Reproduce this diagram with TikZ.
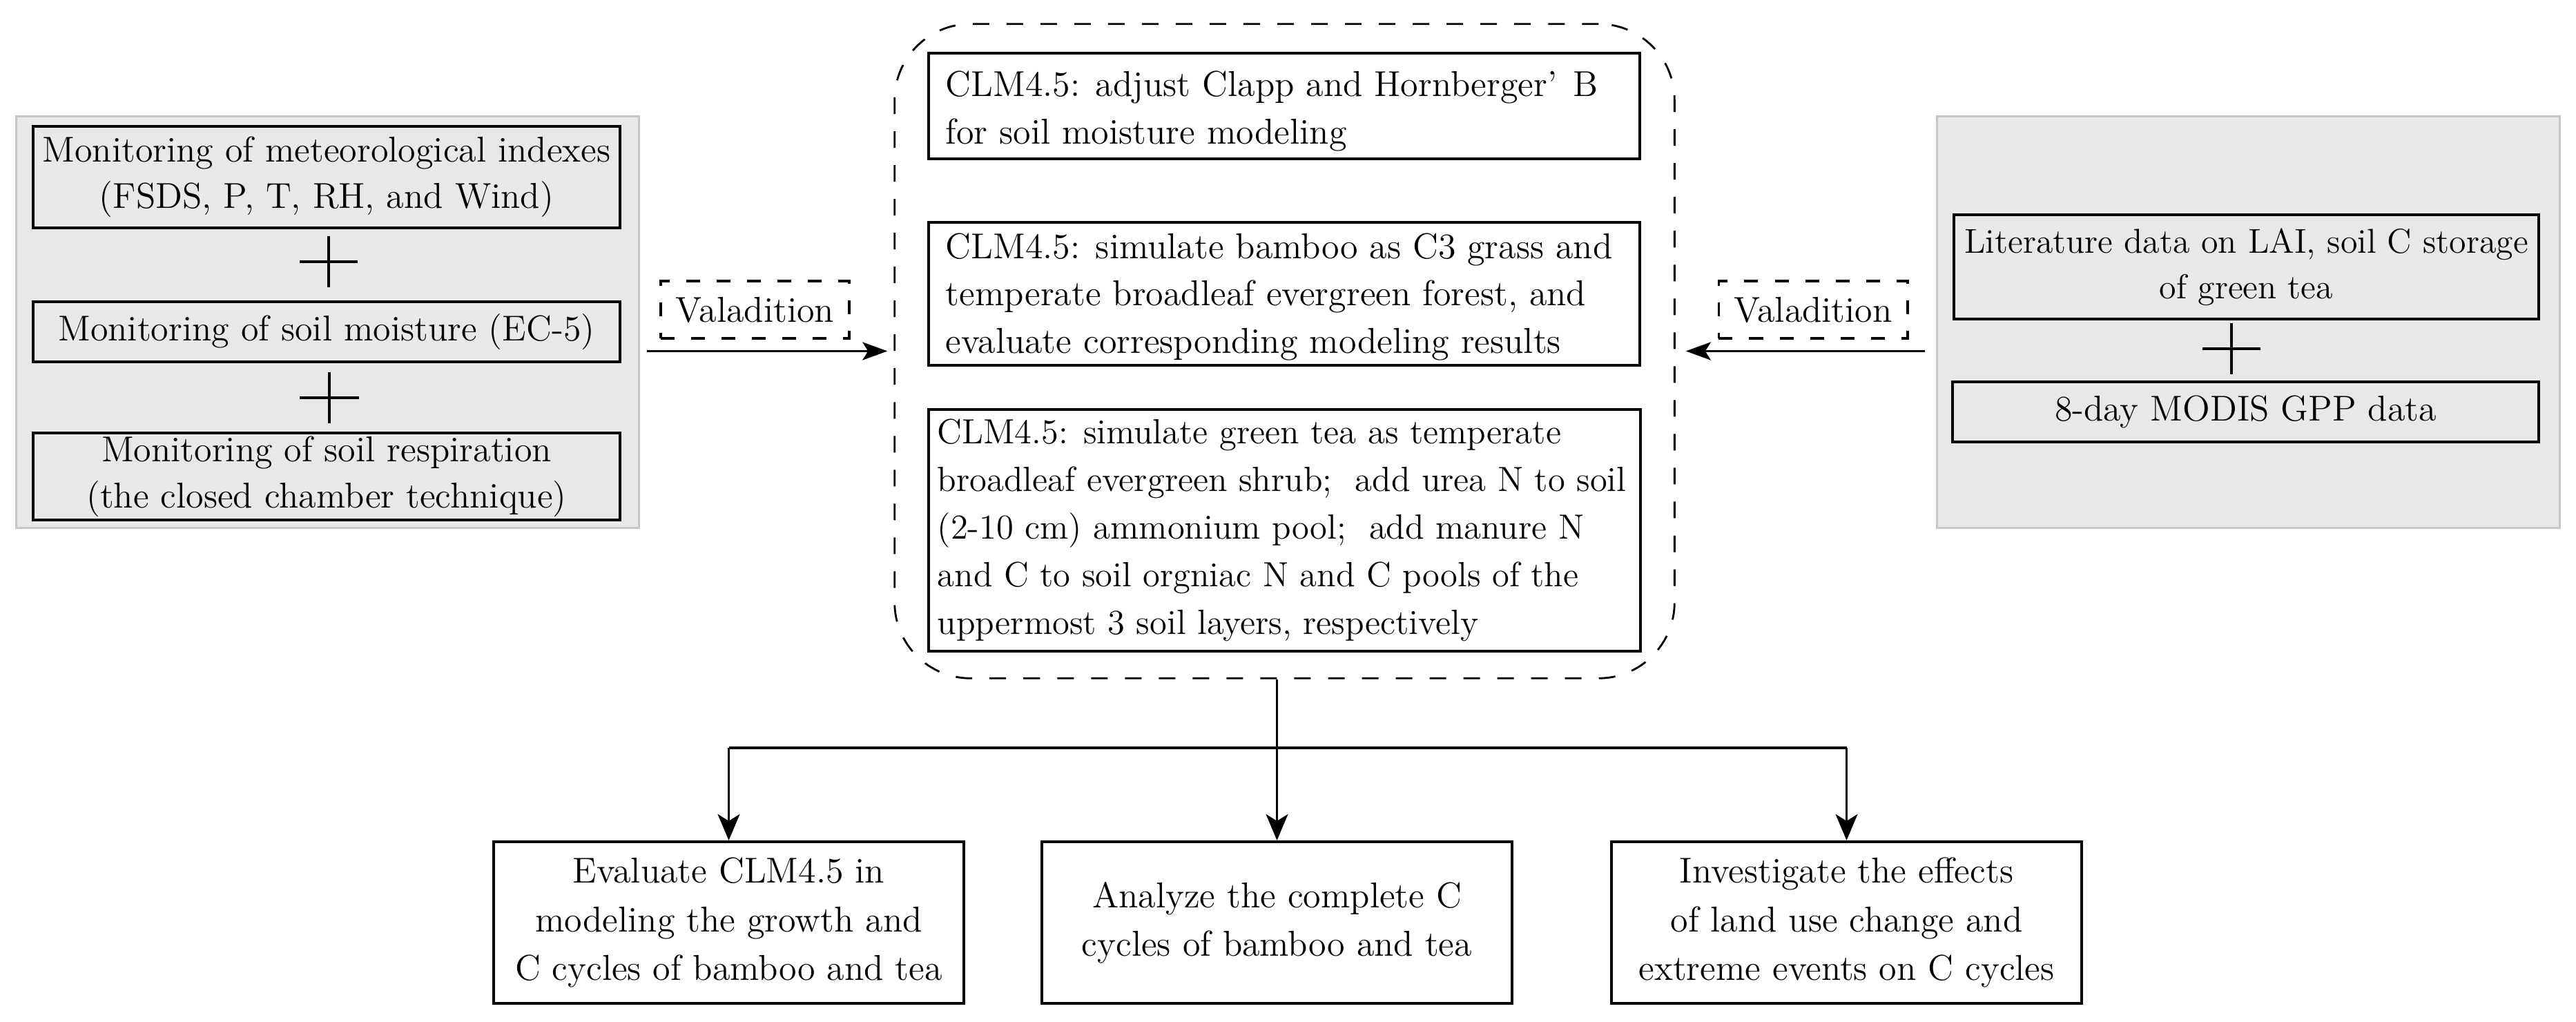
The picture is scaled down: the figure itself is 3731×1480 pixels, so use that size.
\documentclass[tikz,border=0pt]{standalone}
\usepackage{fontspec}
\usetikzlibrary{arrows.meta}
\begin{document}
\begin{tikzpicture}[x=0.01cm,y=-0.01cm,
  txt/.style={font=\fontsize{14.8}{19}\selectfont},
  graypanel/.style={draw=gray!45, line width=0.9pt, fill=gray!18, inner sep=0pt},
  cbox/.style={draw=black, line width=1.1pt, inner sep=0pt, txt, align=center},
  rbox/.style={draw=black, line width=1.1pt, inner sep=0pt, minimum width=10.30cm},
  ltext/.style={inner sep=0pt, anchor=west, align=left, font=\fontsize{14.8}{19.4}\selectfont},
  vbox/.style={draw=black, line width=1.1pt, dash pattern=on 0.2cm off 0.24cm, inner sep=0pt, txt, minimum width=2.73cm, minimum height=0.83cm},
  frame/.style={draw=black, line width=0.8pt, dash pattern=on 0.24cm off 0.25cm, rounded corners=1.1cm, inner sep=0pt},
  plusline/.style={line width=1.2pt},
  sidearr/.style={-{Stealth[length=0.36cm,width=0.26cm,inset=0.08cm]}, line width=1.1pt},
  downarr/.style={-{Stealth[length=0.38cm,width=0.32cm,inset=0.1cm]}, line width=0.8pt},
  hline/.style={line width=1.1pt}
]
\useasboundingbox (0,0) rectangle (3731,1480);

% ---- left panel
\node[graypanel, minimum width=9.01cm, minimum height=5.95cm] (grayL) at (474.5,466.5) {};
\node[cbox, minimum width=8.50cm, minimum height=1.47cm] (L1) at (473,256.5)
  {Monitoring of meteorological indexes\\(FSDS, P, T, RH, and Wind)};
\node[cbox, minimum width=8.50cm, minimum height=0.87cm] (L2) at (473,480.5)
  {Monitoring of soil moisture (EC-5)};
\node[cbox, minimum width=8.50cm, minimum height=1.26cm] (L3) at (473,690)
  {Monitoring of soil respiration\\(the closed chamber technique)};
\coordinate (p1) at (476,379);
\coordinate (p2) at (477,576);
\draw[plusline] ([xshift=-0.42cm]p1) -- ([xshift=0.42cm]p1) ([yshift=0.37cm]p1) -- ([yshift=-0.37cm]p1);
\draw[plusline] ([xshift=-0.43cm]p2) -- ([xshift=0.43cm]p2) ([yshift=0.37cm]p2) -- ([yshift=-0.37cm]p2);

% ---- right panel
\node[graypanel, minimum width=9.01cm, minimum height=5.95cm] (grayR) at (3256.5,466.5) {};
\node[cbox, font=\fontsize{14.2}{18.8}\selectfont, minimum width=8.47cm, minimum height=1.51cm] (R1) at (3253.5,386.5)
  {Literature data on LAI, soil C storage\\of green tea};
\node[cbox, minimum width=8.49cm, minimum height=0.87cm] (R2) at (3252.5,596.5)
  {8-day MODIS GPP data};
\coordinate (p3) at (3232,505);
\draw[plusline] ([xshift=-0.42cm]p3) -- ([xshift=0.42cm]p3) ([yshift=0.37cm]p3) -- ([yshift=-0.37cm]p3);

% ---- central frame
\node[frame, minimum width=11.29cm, minimum height=9.47cm] (frm) at (1860.5,508.5) {};
\node[rbox, minimum height=1.53cm] (C1) at (1860,153.5) {};
\node[rbox, minimum height=2.07cm] (C2) at (1860,425.5) {};
\node[rbox, minimum height=3.50cm] (C3) at (1860.5,768) {};
\node[ltext] (C1t) at (1369,161)
  {CLM4.5: adjust Clapp and Hornberger’\hspace{0.45em}B\\for soil moisture modeling};
\node[ltext] (C2t) at (1369,430)
  {CLM4.5: simulate bamboo as C3 grass and\\temperate broadleaf evergreen forest, and\\evaluate corresponding modeling results};
\node[ltext, font=\fontsize{14.4}{19.6}\selectfont] (C3t) at (1357,768)
  {CLM4.5: simulate green tea as temperate\\broadleaf evergreen shrub;\ \ add urea N to soil\\(2-10 cm) ammonium pool;\ \ add manure N\\and C to soil orgniac N and C pools of the\\uppermost 3 soil layers, respectively};

% ---- validation labels and arrows
\node[vbox] (valL) at (1093.5,448.5) {Valadition};
\node[vbox] (valR) at (2626,448.5) {Valadition};
\draw[sidearr, shorten <=0.1cm, shorten >=0.09cm] (grayL.east |- frm.west) -- (frm.west);
\draw[sidearr, shorten <=0.16cm, shorten >=0.15cm] (grayR.west |- frm.east) -- (frm.east);

% ---- bottom boxes
\node[cbox, font=\fontsize{14.8}{20}\selectfont, minimum width=6.81cm, minimum height=2.34cm] (B1) at (1055.5,1336)
  {Evaluate CLM4.5 in\\modeling the growth and\\C cycles of bamboo and tea};
\node[cbox, font=\fontsize{14.8}{20}\selectfont, minimum width=6.81cm, minimum height=2.34cm] (B2) at (1849.5,1336)
  {Analyze the complete C\\cycles of bamboo and tea};
\node[cbox, font=\fontsize{14.8}{20}\selectfont, minimum width=6.81cm, minimum height=2.34cm] (B3) at (2674.5,1336)
  {Investigate the effects\\of land use change and\\extreme events on C cycles};

\coordinate (jn) at (1850,1083);
\draw[hline] (B1.north |- jn) -- (B3.north |- jn);
\draw[downarr] (frm.south -| B2.north) -- (B2.north);
\draw[downarr] (B1.north |- jn) -- (B1.north);
\draw[downarr] (B3.north |- jn) -- (B3.north);
\end{tikzpicture}
\end{document}
